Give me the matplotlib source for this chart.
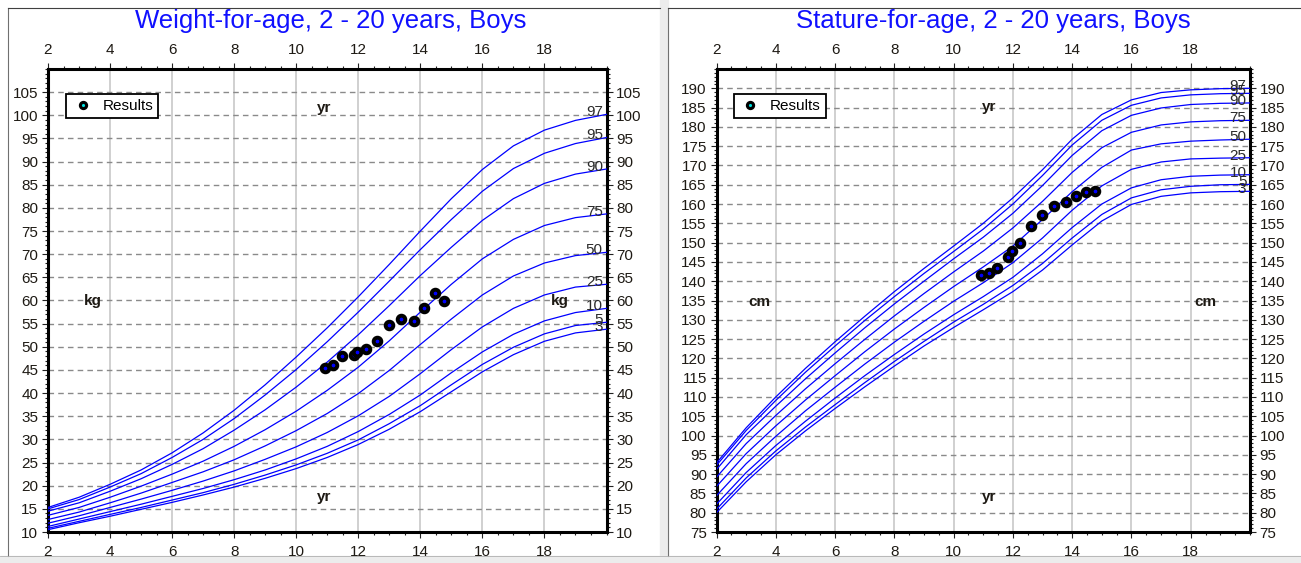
import matplotlib
matplotlib.use("Agg")
import matplotlib.pyplot as plt
from matplotlib.ticker import MultipleLocator, FixedLocator
from matplotlib.patches import Rectangle
from matplotlib.lines import Line2D

plt.rcParams['font.family'] = ['Liberation Sans', 'DejaVu Sans']

# ages of the reference curves (years)
ages = [2, 3, 4, 5, 6, 7, 8, 9, 10, 11, 12, 13, 14, 15, 16, 17, 18, 19, 20]
pct_names = ['3', '5', '10', '25', '50', '75', '90', '95', '97']

# weight-for-age percentiles (kg)
wt_p3 = [10.5, 12.0, 13.4, 14.9, 16.4, 18.0, 19.7, 21.6, 23.7, 26.1, 28.9, 32.2, 36.0, 40.3, 44.6, 48.3, 51.2, 53.0, 53.8]
wt_p5 = [10.8, 12.3, 13.8, 15.3, 16.9, 18.5, 20.3, 22.3, 24.5, 27.0, 29.9, 33.4, 37.3, 41.8, 46.2, 49.9, 52.8, 54.6, 55.3]
wt_p10 = [11.2, 12.8, 14.4, 16.0, 17.7, 19.4, 21.3, 23.4, 25.8, 28.5, 31.7, 35.4, 39.6, 44.4, 48.9, 52.7, 55.6, 57.4, 58.3]
wt_p25 = [11.9, 13.5, 15.3, 17.1, 19.0, 21.0, 23.2, 25.7, 28.4, 31.5, 35.1, 39.3, 44.2, 49.4, 54.3, 58.3, 61.2, 62.9, 63.5]
wt_p50 = [12.7, 14.3, 16.3, 18.4, 20.7, 23.0, 25.6, 28.6, 31.9, 35.6, 39.9, 44.9, 50.5, 56.0, 61.2, 65.3, 68.1, 69.7, 70.4]
wt_p75 = [13.6, 15.3, 17.5, 19.9, 22.5, 25.3, 28.5, 32.1, 36.1, 40.6, 45.6, 51.3, 57.5, 63.5, 69.0, 73.2, 76.2, 77.9, 78.7]
wt_p90 = [14.5, 16.3, 18.8, 21.5, 24.6, 28.0, 32.0, 36.4, 41.3, 46.7, 52.6, 58.9, 65.4, 71.5, 77.3, 82.0, 85.3, 87.3, 88.4]
wt_p95 = [15.0, 17.0, 19.7, 22.6, 26.1, 30.0, 34.5, 39.6, 45.1, 51.1, 57.5, 64.2, 71.0, 77.5, 83.6, 88.5, 91.8, 93.9, 95.2]
wt_p97 = [15.3, 17.5, 20.3, 23.4, 27.1, 31.4, 36.3, 41.8, 47.8, 54.1, 60.8, 67.8, 75.0, 82.0, 88.3, 93.4, 96.8, 98.9, 100.2]

# stature-for-age percentiles (cm)
ht_p3 = [80.0, 88.0, 95.0, 101.2, 107.0, 112.6, 118.0, 123.2, 128.0, 132.6, 137.3, 142.9, 149.4, 155.6, 159.9, 162.0, 162.9, 163.2, 163.3]
ht_p5 = [80.9, 89.0, 96.0, 102.2, 108.0, 113.7, 119.2, 124.4, 129.4, 134.0, 138.9, 144.6, 151.2, 157.3, 161.6, 163.7, 164.6, 165.0, 165.1]
ht_p10 = [82.2, 90.4, 97.4, 103.7, 109.7, 115.5, 121.0, 126.3, 131.3, 136.0, 141.0, 147.1, 153.9, 160.0, 164.2, 166.3, 167.2, 167.5, 167.6]
ht_p25 = [84.4, 92.7, 99.8, 106.4, 112.5, 118.5, 124.2, 129.6, 134.8, 139.6, 144.8, 151.2, 158.4, 164.7, 169.0, 170.9, 171.7, 171.9, 172.0]
ht_p50 = [86.8, 95.3, 102.5, 109.2, 115.5, 121.7, 127.6, 133.2, 138.6, 143.7, 149.1, 156.0, 163.2, 169.5, 174.0, 175.6, 176.3, 176.6, 176.8]
ht_p75 = [89.2, 97.9, 105.2, 112.1, 118.6, 124.9, 131.0, 136.8, 142.4, 147.8, 153.8, 160.7, 168.2, 174.6, 178.6, 180.5, 181.3, 181.6, 181.7]
ht_p90 = [91.2, 100.2, 107.6, 114.7, 121.4, 127.9, 134.1, 140.0, 145.8, 151.4, 157.6, 164.8, 172.6, 179.0, 183.0, 184.9, 185.8, 186.1, 186.2]
ht_p95 = [92.3, 101.3, 109.1, 116.4, 123.2, 129.8, 136.0, 142.0, 147.7, 153.5, 160.0, 167.4, 175.3, 181.7, 185.6, 187.5, 188.3, 188.6, 188.7]
ht_p97 = [92.9, 102.0, 110.0, 117.4, 124.3, 130.9, 137.3, 143.3, 149.1, 155.0, 161.6, 168.9, 176.8, 183.2, 187.0, 188.9, 189.6, 189.9, 190.0]

# patient results
res_age = [10.92, 11.2, 11.47, 11.85, 11.96, 12.24, 12.6, 12.98, 13.39, 13.78, 14.12, 14.48, 14.77]
res_wt = [45.4, 46.0, 48.0, 48.3, 48.8, 49.6, 51.2, 54.7, 56.0, 55.5, 58.3, 61.6, 59.9]
res_ht = [141.6, 142.2, 143.5, 146.4, 147.9, 149.9, 154.2, 157.2, 159.5, 160.6, 162.0, 163.0, 163.3]

wt_curves = [wt_p3, wt_p5, wt_p10, wt_p25, wt_p50, wt_p75, wt_p90, wt_p95, wt_p97]
ht_curves = [ht_p3, ht_p5, ht_p10, ht_p25, ht_p50, ht_p75, ht_p90, ht_p95, ht_p97]

W, H = 1301, 563
fig = plt.figure(figsize=(W / 100, H / 100), dpi=100)
fig.patch.set_facecolor('white')

# window frames
fig.add_artist(Rectangle((0, 0), 1, 7 / H, transform=fig.transFigure, color='#ececec', zorder=0))
fig.add_artist(Rectangle((660 / W, 0), 8 / W, 1, transform=fig.transFigure, color='#ececec', zorder=0))
for x0, x1 in [(8, 660), (668, 1301)]:
    fig.add_artist(Line2D([x0 / W, x0 / W], [7 / H, 1 - 8 / H], transform=fig.transFigure, color='#707070', lw=0.8))
    fig.add_artist(Line2D([x0 / W, x1 / W], [1 - 8 / H, 1 - 8 / H], transform=fig.transFigure, color='#404040', lw=0.8))
fig.add_artist(Line2D([0, 1], [7 / H, 7 / H], transform=fig.transFigure, color='#b0b0b0', lw=0.6))

tick_col = '#1e1a14'


def draw_chart(rect, curves, ylo, yhi, title, tx, unit, yr_pos, unit_y, res_y):
    ax = fig.add_axes(rect)
    ax.set_xlim(2, 20)
    ax.set_ylim(ylo, yhi)
    ax.xaxis.set_major_locator(FixedLocator(list(range(2, 20, 2))))
    ax.xaxis.set_minor_locator(MultipleLocator(0.5))
    ax.yaxis.set_major_locator(FixedLocator(list(range(ylo, yhi, 5))))
    ax.yaxis.set_minor_locator(MultipleLocator(1))
    ax.tick_params(which='both', direction='out', top=True, right=True,
                   labeltop=True, labelright=True, colors='#222222',
                   labelcolor=tick_col, labelsize=11, width=0.8)
    ax.tick_params(which='major', length=4, pad=3)
    ax.tick_params(which='minor', length=2.5)
    ax.tick_params(axis='x', which='major', pad=5)
    for s in ax.spines.values():
        s.set_linewidth(2.2)
        s.set_color('black')
    ax.grid(True, axis='x', which='major', color='#c8c8c8', lw=1.2, ls='-')
    ax.grid(True, axis='y', which='major', color='#8a8a8a', lw=1.0, ls=(0, (4, 3)))
    ax.set_axisbelow(True)

    for name, vals in zip(pct_names, curves):
        ax.plot(ages, vals, color='#0000ff', lw=0.9, zorder=3)
        ax.annotate(name, xy=(19.88, vals[-1]), xytext=(0, 1.5), textcoords='offset points',
                    ha='right', va='center', fontsize=11, color='#2a2a2a', zorder=4)

    pts, = ax.plot(res_age, res_y, ls='none', marker='o', ms=5.5, mfc='#0000ff',
                   mec='black', mew=2.8, zorder=5, label='Results')
    leg = ax.legend(handles=[pts], loc='upper left', bbox_to_anchor=(0.032, 0.945),
                    borderaxespad=0, frameon=True, fancybox=False, shadow=False,
                    fontsize=11, handlelength=1.6, handletextpad=0.5,
                    borderpad=0.3, framealpha=1)
    leg.get_frame().set_edgecolor('black')
    leg.get_frame().set_linewidth(1.3)
    leg.legend_handles[0].set_markerfacecolor('#00e0e0')
    leg.legend_handles[0].set_markersize(4.5)
    leg.legend_handles[0].set_markeredgewidth(2.2)

    ax.text(yr_pos[0], yr_pos[1], 'yr', fontweight='bold', fontsize=11, ha='center', va='center', color=tick_col)
    ax.text(yr_pos[0], yr_pos[2], 'yr', fontweight='bold', fontsize=11, ha='center', va='center', color=tick_col)
    ax.text(3.45, unit_y, unit, fontweight='bold', fontsize=11, ha='center', va='center', color=tick_col)
    ax.text(18.5, unit_y, unit, fontweight='bold', fontsize=11, ha='center', va='center', color=tick_col)

    fig.text(tx / W, 1 - 21 / H, title, color='#1010ff', fontsize=18.5, ha='center', va='center')
    return ax


draw_chart([48 / W, 1 - 532 / H, 558.5 / W, 463 / H], wt_curves, 10, 110,
           'Weight-for-age, 2 - 20 years, Boys', 331, 'kg', (10.9, 101.6, 17.5), 59.8, res_wt)
draw_chart([716.5 / W, 1 - 532 / H, 533.5 / W, 463 / H], ht_curves, 75, 195,
           'Stature-for-age, 2 - 20 years, Boys', 993, 'cm', (11.2, 185.1, 84.1), 134.7, res_ht)

fig.savefig('out.png', dpi=100)
